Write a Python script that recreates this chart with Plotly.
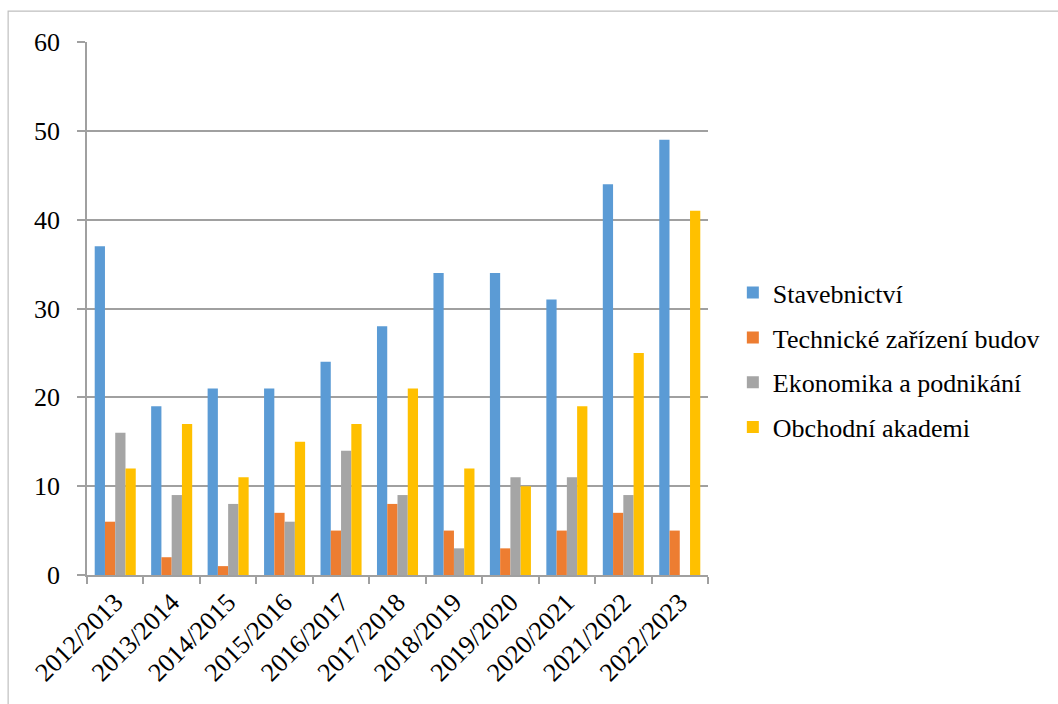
import plotly.graph_objects as go

years = ["2012/2013", "2013/2014", "2014/2015", "2015/2016", "2016/2017", "2017/2018",
         "2018/2019", "2019/2020", "2020/2021", "2021/2022", "2022/2023"]
stavebnictvi = [37, 19, 21, 21, 24, 28, 34, 34, 31, 44, 49]
technicke = [6, 2, 1, 7, 5, 8, 5, 3, 5, 7, 5]
ekonomika = [16, 9, 8, 6, 14, 9, 3, 11, 11, 9, 0]
obchodni = [12, 17, 11, 15, 17, 21, 12, 10, 19, 25, 41]

series = [
    ("Stavebnictví", stavebnictvi, "#5B9BD5"),
    ("Technické zařízení budov", technicke, "#ED7D31"),
    ("Ekonomika a podnikání", ekonomika, "#A5A5A5"),
    ("Obchodní akademi", obchodni, "#FFC000"),
]

fig = go.Figure()
for i, (name, vals, col) in enumerate(series):
    fig.add_trace(go.Bar(x=years, y=vals, name=name, marker_color=col,
                         marker_line_width=0, legendgroup=f"g{i}"))

font = "Liberation Serif"
fs = 26
fig.update_layout(
    width=1058, height=704,
    margin=dict(l=87, r=350, t=42, b=129),
    paper_bgcolor="white", plot_bgcolor="white",
    barmode="group", bargap=0.273, bargroupgap=0,
    font=dict(family=font, size=fs, color="black"),
    showlegend=True,
    legend=dict(x=1.04, y=0.403, xanchor="left", yanchor="middle",
                font=dict(family=font, size=fs, color="black"),
                tracegroupgap=8, itemwidth=30, bgcolor="rgba(0,0,0,0)"),
    xaxis=dict(showline=True, linecolor="#A0A0A0", linewidth=1.5,
               ticks="outside", ticklen=7, tickcolor="#A0A0A0", tickwidth=1.5,
               tickson="boundaries", tickangle=-45, showgrid=False, automargin=False,
               tickfont=dict(family=font, size=fs, color="black")),
    yaxis=dict(range=[0, 60], dtick=10, showgrid=True, gridcolor="#A0A0A0", gridwidth=1.5,
               showline=True, linecolor="#A0A0A0", linewidth=1.5,
               ticks="outside", ticklen=8, tickcolor="#A0A0A0", tickwidth=1.5,
               ticklabelstandoff=12, zeroline=False, automargin=False,
               tickfont=dict(family=font, size=fs, color="black")),
    shapes=[dict(type="rect", xref="paper", yref="paper",
                 x0=-0.127, x1=1.6, y0=-0.3, y1=1.058,
                 line=dict(color="#BFBFBF", width=1.2), fillcolor="rgba(0,0,0,0)",
                 layer="below")],
)

fig.write_html("out.html", config={"displayModeBar": False},
               post_script="document.body.style.margin='0';")
